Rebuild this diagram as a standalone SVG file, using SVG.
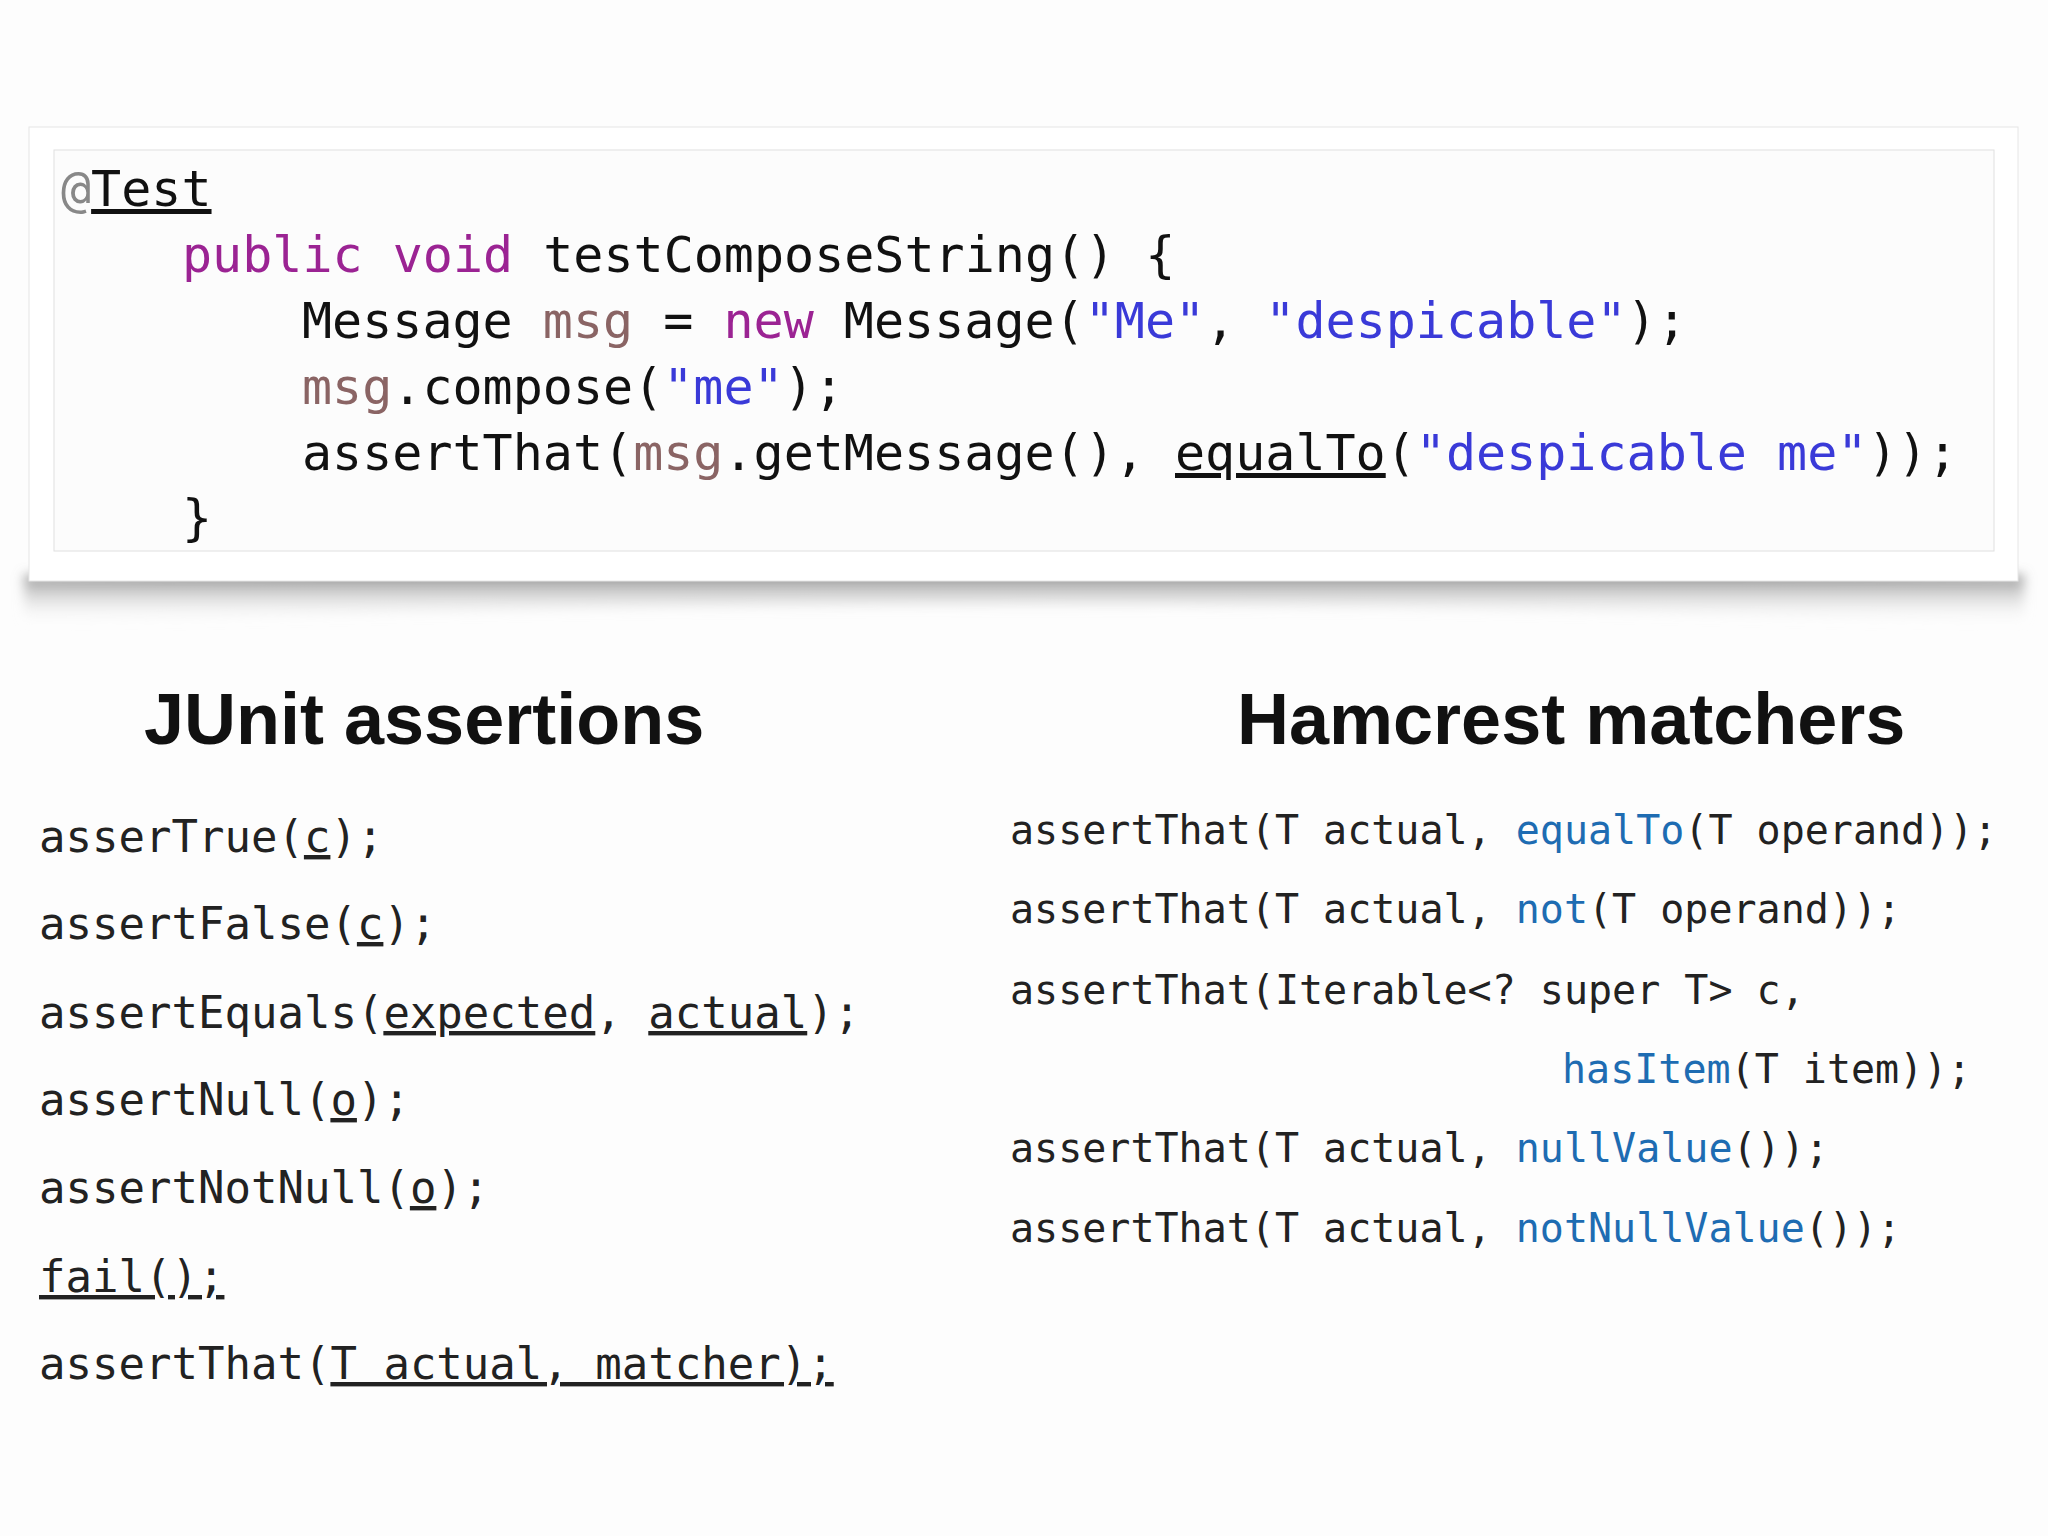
<svg xmlns="http://www.w3.org/2000/svg" width="2048" height="1536" viewBox="0 0 2048 1536">
<defs>
<style>
text{white-space:pre}
.code{font-family:"DejaVu Sans Mono",monospace;font-size:50px;fill:#111}
.kw{fill:#9b2393}
.var{fill:#8a6464}
.str{fill:#3a3ad8}
.mono{font-family:"DejaVu Sans Mono",monospace;font-size:44px;fill:#222}
.mono2{font-family:"DejaVu Sans Mono",monospace;font-size:40px;fill:#222}
.bl{fill:#1e6cb2}
.h{font-family:"Liberation Sans",Arial,sans-serif;font-weight:bold;font-size:72px;fill:#111}
</style>
<linearGradient id="sh" x1="0" y1="0" x2="0" y2="1">
<stop offset="0" stop-color="#666"/><stop offset="1" stop-color="#fff" stop-opacity="0"/>
</linearGradient>
<filter id="bl"><feGaussianBlur stdDeviation="6"/></filter>
</defs>
<rect width="2048" height="1536" fill="#fdfdfd"/>
<g id="codebox">
<path d="M24 575 Q1024 555 2024 575 L2024 625 Q1024 585 24 625 Z" fill="url(#sh)" filter="url(#bl)"/>
<rect x="29" y="127" width="1989" height="454" fill="#ffffff" stroke="#e6e6e6"/>
<rect x="54" y="150" width="1940" height="401" fill="#fcfcfc" stroke="#e0e0e0"/>
<text class="code" x="61" y="206"><tspan fill="#888">@</tspan><tspan text-decoration="underline">Test</tspan></text>
<text class="code" x="182" y="272"><tspan class="kw">public void</tspan> testComposeString() {</text>
<text class="code" x="302" y="338">Message <tspan class="var">msg</tspan> = <tspan class="kw">new</tspan> Message(<tspan class="str">"Me"</tspan>, <tspan class="str">"despicable"</tspan>);</text>
<text class="code" x="302" y="404"><tspan class="var">msg</tspan>.compose(<tspan class="str">"me"</tspan>);</text>
<text class="code" x="302" y="470">assertThat(<tspan class="var">msg</tspan>.getMessage(), <tspan text-decoration="underline">equalTo</tspan>(<tspan class="str">"despicable me"</tspan>));</text>
<text class="code" x="182" y="535">}</text>
</g>
<g id="junit">
<text class="h" x="144" y="744">JUnit assertions</text>
<text class="mono" x="39" y="852">asserTrue(<tspan text-decoration="underline">c</tspan>);</text>
<text class="mono" x="39" y="939">assertFalse(<tspan text-decoration="underline">c</tspan>);</text>
<text class="mono" x="39" y="1028">assertEquals(<tspan text-decoration="underline">expected</tspan>, <tspan text-decoration="underline">actual</tspan>);</text>
<text class="mono" x="39" y="1115">assertNull(<tspan text-decoration="underline">o</tspan>);</text>
<text class="mono" x="39" y="1203">assertNotNull(<tspan text-decoration="underline">o</tspan>);</text>
<text class="mono" x="39" y="1292" text-decoration="underline">fail();</text>
<text class="mono" x="39" y="1379">assertThat(<tspan text-decoration="underline">T actual, matcher);</tspan></text>
</g>
<g id="hamcrest">
<text class="h" x="1237" y="744">Hamcrest matchers</text>
<text class="mono2" x="1010" y="844">assertThat(T actual, <tspan class="bl">equalTo</tspan>(T operand));</text>
<text class="mono2" x="1010" y="923">assertThat(T actual, <tspan class="bl">not</tspan>(T operand));</text>
<text class="mono2" x="1010" y="1004">assertThat(Iterable&lt;? super T&gt; c,</text>
<text class="mono2" x="1562" y="1083"><tspan class="bl">hasItem</tspan>(T item));</text>
<text class="mono2" x="1010" y="1162">assertThat(T actual, <tspan class="bl">nullValue</tspan>());</text>
<text class="mono2" x="1010" y="1242">assertThat(T actual, <tspan class="bl">notNullValue</tspan>());</text>
</g>
</svg>
